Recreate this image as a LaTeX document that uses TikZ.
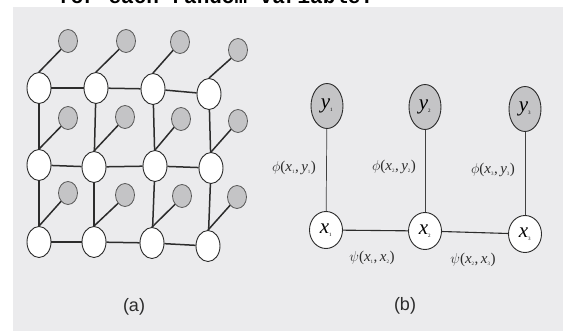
\documentclass[tikz,border=0pt]{standalone}
\usepackage{fontspec}
\setmainfont{Liberation Serif}
\setsansfont{Liberation Sans}
\setmonofont{Liberation Mono}
\usetikzlibrary{shapes.geometric}
\definecolor{scanbg}{HTML}{EBEBED}
\definecolor{ink}{HTML}{2C2C2C}
\definecolor{shade}{HTML}{C4C4C6}
\begin{document}
\begin{tikzpicture}[x=1pt,y=-1pt,
  wn/.style={ellipse,draw=ink,line width=0.9pt,fill=white,minimum width=24pt,minimum height=31pt,inner sep=0pt},
  gn/.style={ellipse,draw=ink!80,line width=0.8pt,fill=shade,minimum width=19pt,minimum height=23pt,inner sep=0pt},
  yn/.style={ellipse,draw=ink,line width=0.9pt,fill=shade,minimum width=32pt,minimum height=45pt,inner sep=0pt,font=\fontsize{21}{21}\selectfont},
  xn/.style={ellipse,draw=ink,line width=0.9pt,fill=white,minimum width=33pt,minimum height=37pt,inner sep=0pt,font=\fontsize{21}{21}\selectfont},
  gl/.style={draw=ink,line width=1.5pt},
  thinl/.style={draw=ink!90,line width=0.7pt},
  midl/.style={draw=ink,line width=1.1pt},
  flab/.style={inner sep=0pt,text=ink,font=\fontsize{15}{15}\selectfont},
  caplab/.style={inner sep=0pt,text=ink,font=\sffamily\fontsize{18}{18}\selectfont}
]
\useasboundingbox (0,0) rectangle (563,331);
\clip (0,0) rectangle (563,331);
\fill[white] (0,0) rectangle (563,331);
\fill[scanbg] (13,7) rectangle (563,331);
\node[anchor=base west,inner sep=0pt,font=\ttfamily\bfseries\fontsize{21}{21}\selectfont] (toptext) at (58,4) {for each random variable.};

% ---------- (a) grid ----------
\foreach \n/\x/\y in {w11/39/88, w12/96/88, w13/153/89, w14/209/94,
                      w21/39/165, w22/94/167, w23/155/166, w24/211/168,
                      w31/39/242, w32/94/242, w33/152/243, w34/208/246}
  \node[wn] (\n) at (\x,\y) {};
\foreach \n/\x/\y in {g11/68/41, g12/126/41, g13/180/42, g14/238/50,
                      g21/68/118, g22/125/117, g23/181/119, g24/238/121,
                      g31/68/193, g32/125/195, g33/182/196, g34/237/197}
  \node[gn] (\n) at (\x,\y) {};
\foreach \r in {1,2,3}{
  \draw[gl] (w\r1) -- (w\r2);
  \draw[gl] (w\r2) -- (w\r3);
  \draw[gl] (w\r3) -- (w\r4);
}
\foreach \c in {1,2,3,4}{
  \draw[gl] (w1\c) -- (w2\c);
  \draw[gl] (w2\c) -- (w3\c);
}
\foreach \r in {1,2,3}{
  \foreach \c in {1,2,3,4}{
    \draw[gl] (w\r\c.north) -- (g\r\c.south west);
  }
}
\node[caplab] (capa) at (134,307) {(a)};

% ---------- (b) chain ----------
\node[yn] (y1) at (327,106) {\textit{y}\textsubscript{\tiny 1}};
\node[yn] (y2) at (425,107) {\textit{y}\textsubscript{\tiny 2}};
\node[yn] (y3) at (525,109) {\textit{y}\textsubscript{\tiny 3}};
\node[xn] (x1) at (326,230) {\textit{x}\textsubscript{\tiny 1}};
\node[xn] (x2) at (425,231) {\textit{x}\textsubscript{\tiny 2}};
\node[xn] (x3) at (525,234) {\textit{x}\textsubscript{\tiny 3}};
\draw[thinl] (y1) -- (x1);
\draw[thinl] (y2) -- (x2);
\draw[thinl] (y3) -- (x3);
\draw[midl] (x1) -- (x2);
\draw[midl] (x2) -- (x3);
\node[flab] (p1) at (294,168) {$\phi$(\textit{x}\textsubscript{\tiny 1},\,\textit{y}\textsubscript{\tiny 1})};
\node[flab] (p2) at (394,167) {$\phi$(\textit{x}\textsubscript{\tiny 2},\,\textit{y}\textsubscript{\tiny 2})};
\node[flab] (p3) at (493,170) {$\phi$(\textit{x}\textsubscript{\tiny 3},\,\textit{y}\textsubscript{\tiny 3})};
\node[flab] (s1) at (372,258) {$\psi$(\textit{x}\textsubscript{\tiny 1},\,\textit{x}\textsubscript{\tiny 2})};
\node[flab] (s2) at (473,260) {$\psi$(\textit{x}\textsubscript{\tiny 2},\,\textit{x}\textsubscript{\tiny 3})};
\node[caplab] (capb) at (405,306) {(b)};
\end{tikzpicture}
\end{document}
